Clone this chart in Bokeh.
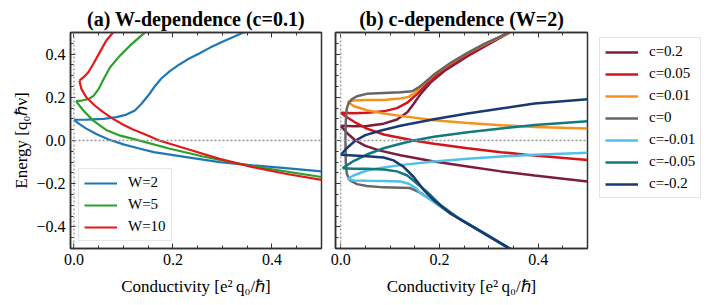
from bokeh.plotting import figure
from bokeh.layouts import row
from bokeh.models import (Legend, LegendItem, Span, LinearAxis, Range1d,
                          CustomJSTickFormatter, SingleIntervalTicker)
from bokeh.embed import file_html
from bokeh.resources import INLINE

# ---------------- data: panel (a) W-dependence (c=0.1) ----------------
w_labels = ["W=2", "W=5", "W=10"]
w_colors = ["#1f77b4", "#2ca02c", "#e31a1c"]

w2_up_x = [0.0, 0.026, 0.06, 0.086, 0.106, 0.123, 0.136, 0.150, 0.163, 0.176, 0.193, 0.213, 0.233, 0.253, 0.275, 0.30, 0.339, 0.36]
w2_up_y = [0.096, 0.097, 0.100, 0.108, 0.120, 0.139, 0.169, 0.208, 0.250, 0.286, 0.320, 0.352, 0.380, 0.403, 0.430, 0.457, 0.497, 0.515]
w2_lo_x = [0.0, 0.012, 0.025, 0.045, 0.07, 0.10, 0.13, 0.161, 0.227, 0.294, 0.361, 0.427, 0.5]
w2_lo_y = [0.096, 0.075, 0.055, 0.030, 0.005, -0.018, -0.036, -0.054, -0.077, -0.100, -0.115, -0.128, -0.143]

w5_up_x = [0.004, 0.016, 0.030, 0.040, 0.050, 0.060, 0.073, 0.093, 0.113, 0.133, 0.145, 0.155]
w5_up_y = [0.182, 0.185, 0.192, 0.208, 0.239, 0.285, 0.339, 0.393, 0.439, 0.480, 0.503, 0.52]
w5_lo_x = [0.004, 0.019, 0.039, 0.065, 0.09, 0.127, 0.194, 0.261, 0.327, 0.394, 0.5]
w5_lo_y = [0.182, 0.139, 0.092, 0.049, 0.025, 0.003, -0.038, -0.074, -0.105, -0.131, -0.169]

w10_up_x = [0.011, 0.019, 0.029, 0.039, 0.052, 0.065, 0.079, 0.085]
w10_up_y = [0.277, 0.292, 0.316, 0.354, 0.408, 0.462, 0.500, 0.515]
w10_lo_x = [0.011, 0.015, 0.025, 0.042, 0.059, 0.079, 0.099, 0.117, 0.137, 0.155, 0.172, 0.227, 0.294, 0.361, 0.427, 0.5]
w10_lo_y = [0.277, 0.239, 0.200, 0.162, 0.131, 0.100, 0.074, 0.053, 0.035, 0.017, 0.0, -0.038, -0.085, -0.123, -0.154, -0.182]

# ---------------- data: panel (b) c-dependence (W=2) ----------------
c_labels = ["c=0.2", "c=0.05", "c=0.01", "c=0", "c=-0.01", "c=-0.05", "c=-0.2"]
c_colors = ["#7d1c3c", "#d4141c", "#f5921c", "#666666", "#4fc0e8", "#137a7e", "#183a70"]

c02_up_x = [0.0, 0.026, 0.053, 0.087, 0.114, 0.135, 0.148, 0.162, 0.182, 0.21, 0.257, 0.298, 0.342, 0.36]
c02_up_y = [0.068, 0.066, 0.067, 0.078, 0.097, 0.131, 0.170, 0.216, 0.268, 0.322, 0.390, 0.444, 0.500, 0.52]
c02_lo_x = [0.0, 0.015, 0.03, 0.05, 0.08, 0.121, 0.189, 0.257, 0.325, 0.393, 0.5]
c02_lo_y = [0.068, 0.030, 0.0, -0.025, -0.047, -0.068, -0.097, -0.120, -0.143, -0.162, -0.190]

c005_up_x = [0.0, 0.026, 0.053, 0.087, 0.114, 0.135, 0.155, 0.175, 0.203, 0.244, 0.291, 0.339, 0.36]
c005_up_y = [0.129, 0.126, 0.129, 0.135, 0.150, 0.175, 0.216, 0.263, 0.320, 0.382, 0.440, 0.499, 0.52]
c005_lo_x = [0.0, 0.012, 0.033, 0.053, 0.087, 0.148, 0.189, 0.257, 0.325, 0.393, 0.5]
c005_lo_y = [0.129, 0.109, 0.079, 0.055, 0.028, 0.0, -0.015, -0.036, -0.054, -0.070, -0.090]

c001_up_x = [0.014, 0.026, 0.053, 0.087, 0.121, 0.138, 0.152, 0.162, 0.189, 0.223, 0.257, 0.291, 0.325, 0.346, 0.36]
c001_up_y = [0.179, 0.185, 0.187, 0.188, 0.194, 0.202, 0.222, 0.250, 0.303, 0.358, 0.404, 0.445, 0.481, 0.503, 0.52]
c001_lo_x = [0.014, 0.026, 0.053, 0.087, 0.121, 0.189, 0.257, 0.325, 0.393, 0.5]
c001_lo_y = [0.179, 0.160, 0.140, 0.125, 0.114, 0.094, 0.081, 0.071, 0.063, 0.056]

c0_up_x = [0.0096, 0.0103, 0.0123, 0.0157, 0.0225, 0.033, 0.053, 0.087, 0.121, 0.145, 0.162, 0.189, 0.223, 0.257, 0.291, 0.325, 0.346, 0.36]
c0_up_y = [0.0, 0.086, 0.148, 0.171, 0.191, 0.205, 0.216, 0.220, 0.223, 0.228, 0.252, 0.305, 0.360, 0.406, 0.447, 0.483, 0.505, 0.52]
c0_lo_x = [0.0096, 0.0103, 0.0123, 0.019, 0.033, 0.053, 0.087, 0.141, 0.162, 0.189, 0.223, 0.257, 0.291, 0.339, 0.36]
c0_lo_y = [0.0, -0.100, -0.154, -0.185, -0.202, -0.211, -0.217, -0.220, -0.242, -0.285, -0.339, -0.385, -0.431, -0.497, -0.52]

cm001_up_x = [0.014, 0.026, 0.053, 0.087, 0.121, 0.189, 0.257, 0.325, 0.393, 0.5]
cm001_up_y = [-0.177, -0.162, -0.139, -0.125, -0.114, -0.097, -0.085, -0.074, -0.066, -0.057]
cm001_lo_x = [0.014, 0.026, 0.053, 0.087, 0.121, 0.138, 0.152, 0.162, 0.189, 0.223, 0.257, 0.291, 0.339, 0.36]
cm001_lo_y = [-0.177, -0.185, -0.186, -0.187, -0.190, -0.200, -0.220, -0.245, -0.283, -0.337, -0.383, -0.429, -0.497, -0.52]

cm005_up_x = [0.004, 0.026, 0.053, 0.087, 0.121, 0.148, 0.189, 0.257, 0.325, 0.393, 0.5]
cm005_up_y = [-0.128, -0.095, -0.065, -0.036, -0.015, 0.0, 0.017, 0.038, 0.056, 0.072, 0.089]
cm005_lo_x = [0.004, 0.026, 0.053, 0.087, 0.114, 0.135, 0.155, 0.175, 0.203, 0.244, 0.291, 0.339, 0.36]
cm005_lo_y = [-0.128, -0.131, -0.131, -0.134, -0.143, -0.162, -0.200, -0.238, -0.300, -0.368, -0.430, -0.495, -0.52]

cm02_up_x = [0.0, 0.015, 0.03, 0.05, 0.08, 0.121, 0.189, 0.257, 0.325, 0.393, 0.5]
cm02_up_y = [-0.066, -0.030, 0.0, 0.025, 0.045, 0.068, 0.098, 0.125, 0.148, 0.171, 0.191]
cm02_lo_x = [0.0, 0.026, 0.053, 0.087, 0.107, 0.128, 0.148, 0.169, 0.189, 0.223, 0.257, 0.291, 0.342, 0.36]
cm02_lo_y = [-0.066, -0.069, -0.073, -0.079, -0.092, -0.123, -0.169, -0.231, -0.277, -0.339, -0.385, -0.431, -0.500, -0.52]

w_series = [
    (w2_up_x, w2_up_y, w2_lo_x, w2_lo_y),
    (w5_up_x, w5_up_y, w5_lo_x, w5_lo_y),
    (w10_up_x, w10_up_y, w10_lo_x, w10_lo_y),
]
c_series = [
    (c02_up_x, c02_up_y, c02_lo_x, c02_lo_y),
    (c005_up_x, c005_up_y, c005_lo_x, c005_lo_y),
    (c001_up_x, c001_up_y, c001_lo_x, c001_lo_y),
    (c0_up_x, c0_up_y, c0_lo_x, c0_lo_y),
    (cm001_up_x, cm001_up_y, cm001_lo_x, cm001_lo_y),
    (cm005_up_x, cm005_up_y, cm005_lo_x, cm005_lo_y),
    (cm02_up_x, cm02_up_y, cm02_lo_x, cm02_lo_y),
]

FONT = "Liberation Serif"
FRAME = "#333333"
H = 304
MB = 56
NAN = float("nan")

fmt = CustomJSTickFormatter(code="""
    if (Math.abs(tick) < 1e-9) { return '0.0'; }
    return (tick < 0 ? '\\u2212' : '') + Math.abs(tick).toFixed(1);
""")
blank = CustomJSTickFormatter(code="return '';")


def style(p, show_ylabels):
    p.grid.visible = False
    p.outline_line_color = FRAME
    p.outline_line_width = 1.5
    p.title.text_font = FONT
    p.title.text_font_size = "20px"
    p.title.text_font_style = "bold"
    p.title.align = "center"
    p.title.text_color = "black"
    p.title.standoff = 5
    for ax in [p.xaxis[0], p.yaxis[0]]:
        ax.axis_line_color = FRAME
        ax.axis_line_width = 1.5
        ax.major_tick_in = 5
        ax.major_tick_out = 0
        ax.minor_tick_in = 3
        ax.minor_tick_out = 0
        ax.major_tick_line_color = FRAME
        ax.minor_tick_line_color = FRAME
        ax.major_label_text_font = FONT
        ax.major_label_text_font_size = "16px"
        ax.major_label_text_color = "black"
        ax.axis_label_text_font = FONT
        ax.axis_label_text_font_size = "17px"
        ax.axis_label_text_font_style = "normal"
        ax.axis_label_text_color = "black"
        ax.formatter = fmt
    p.xaxis[0].ticker = SingleIntervalTicker(interval=0.2, num_minor_ticks=4)
    p.yaxis[0].ticker = SingleIntervalTicker(interval=0.2, num_minor_ticks=4)
    p.xaxis[0].major_label_standoff = 5
    p.xaxis[0].axis_label_standoff = 9
    p.xaxis[0].axis_label = "Conductivity [e\u00b2\u2009q\u2080/\u210f]"
    if show_ylabels:
        p.yaxis[0].axis_label = "Energy [q\u2080\u210f\u03bd]"
        p.yaxis[0].major_label_standoff = 5
        p.yaxis[0].axis_label_standoff = 2
    else:
        p.yaxis[0].formatter = blank
        p.yaxis[0].major_label_standoff = 0
    top = LinearAxis(ticker=SingleIntervalTicker(interval=0.2, num_minor_ticks=4),
                     formatter=blank, major_label_standoff=0,
                     major_tick_in=5, major_tick_out=0, minor_tick_in=3, minor_tick_out=0,
                     axis_line_color=FRAME, axis_line_width=1.5,
                     major_tick_line_color=FRAME, minor_tick_line_color=FRAME)
    p.add_layout(top, "above")
    p.add_layout(Span(location=0, dimension="width", line_color="#999999",
                      line_dash="2 2", line_width=1.3))
    p.add_layout(Span(location=0, dimension="height", line_color="#999999",
                      line_dash="2 2", line_width=1.3))


def legend_style(leg):
    leg.border_line_color = "#cccccc"
    leg.border_line_width = 1
    leg.background_fill_color = "white"
    leg.background_fill_alpha = 1
    leg.label_text_font = FONT
    leg.label_text_font_size = "15px"
    leg.label_text_color = "black"
    leg.glyph_width = 33
    leg.glyph_height = 16
    leg.label_height = 16
    leg.spacing = 5
    leg.padding = 5
    leg.label_standoff = 11
    leg.margin = 0


# ---------------- panel (a) ----------------
p1 = figure(width=328, height=H, x_range=Range1d(-0.007, 0.5), y_range=Range1d(-0.5, 0.5),
            output_backend="svg", toolbar_location=None,
            title="(a) W-dependence (c=0.1)",
            min_border_left=70, min_border_right=7, min_border_top=32, min_border_bottom=MB)
style(p1, True)
items1 = []
for (ux, uy, lx, ly), lab, col in zip(w_series, w_labels, w_colors):
    r1 = p1.line(ux, uy, line_color=col, line_width=2.2)
    p1.line(lx, ly, line_color=col, line_width=2.2)
    items1.append(LegendItem(label=lab, renderers=[r1]))
leg1 = Legend(items=items1, location=(8, 7))
legend_style(leg1)
p1.add_layout(leg1)

# ---------------- panel (b) ----------------
p2 = figure(width=266, height=H, x_range=Range1d(-0.0105, 0.5), y_range=Range1d(-0.5, 0.5),
            output_backend="svg", toolbar_location=None,
            title="(b) c-dependence (W=2)",
            min_border_left=7, min_border_right=7, min_border_top=32, min_border_bottom=MB)
style(p2, False)
for (ux, uy, lx, ly), col in zip(c_series, c_colors):
    p2.line(ux, uy, line_color=col, line_width=2.5)
    p2.line(lx, ly, line_color=col, line_width=2.5)

# ---------------- legend for panel (b), outside on the right ----------------
p3 = figure(width=120, height=H, x_axis_type=None, y_axis_type=None,
            x_range=Range1d(0, 1), y_range=Range1d(0, 1),
            output_backend="svg", toolbar_location=None,
            min_border=0, min_border_left=0, min_border_right=0,
            min_border_top=0, min_border_bottom=0)
p3.grid.visible = False
p3.outline_line_color = None
items2 = []
for lab, col in zip(c_labels, c_colors):
    r = p3.line([NAN], [NAN], line_color=col, line_width=2.5)
    items2.append(LegendItem(label=lab, renderers=[r]))
leg2 = Legend(items=items2, location=(5, 50))
legend_style(leg2)
p3.add_layout(leg2)

layout = row(p1, p2, p3)
open("out.html", "w").write(file_html(layout, INLINE))
